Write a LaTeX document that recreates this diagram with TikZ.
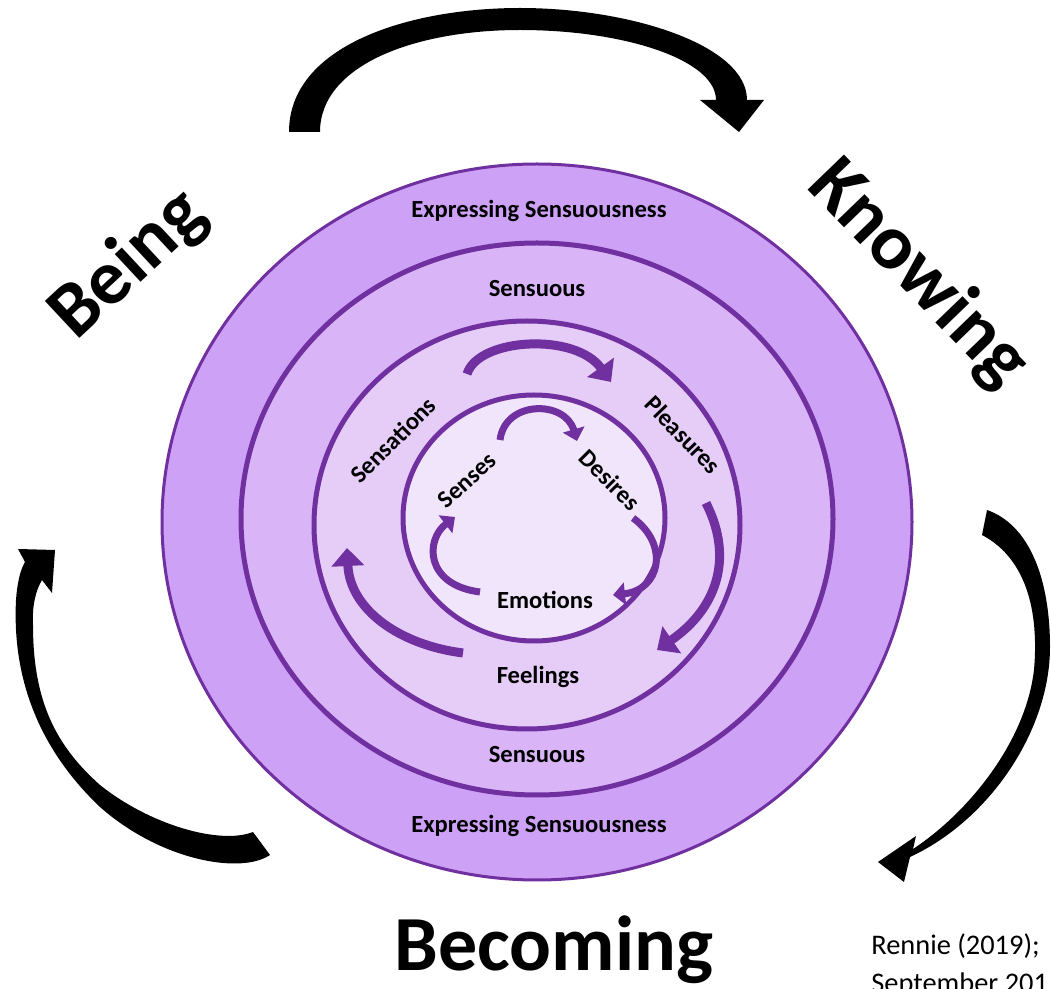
\documentclass[tikz,border=0pt]{standalone}
\usepackage{fontspec}
\setmainfont{Carlito}
\usetikzlibrary{arrows.meta}

\definecolor{ringone}{RGB}{205,161,246}
\definecolor{ringtwo}{RGB}{217,181,248}
\definecolor{ringthree}{RGB}{229,205,248}
\definecolor{ringfour}{RGB}{240,229,250}
\definecolor{plum}{RGB}{112,48,160}

\tikzset{
  ringlabel/.style={inner sep=0pt, font=\bfseries\fontsize{12.3}{14}\selectfont},
  biglabel/.style={inner sep=0pt, font=\bfseries\fontsize{39}{46}\selectfont},
  citelabel/.style={inner sep=0pt, font=\fontsize{14.2}{17}\selectfont},
  ringarrow/.style={draw=plum, line width=4.5pt, -{Triangle[width=16pt,length=9pt]}},
  innerarrow/.style={draw=plum, line width=3.5pt, -{Triangle[width=11pt,length=6pt]}}
}

\begin{document}
\begin{tikzpicture}[x=0.5pt,y=-0.5pt]
  \useasboundingbox (0,0) rectangle (1051,989);
  \clip (0,0) rectangle (1051,989);

  % rings, outside in
  \filldraw [fill=ringone, draw=plum, line width=1.5pt] (537,522) ellipse [x radius=375, y radius=358];
  \filldraw [fill=ringtwo, draw=plum, line width=2.5pt] (537,519) ellipse [x radius=296, y radius=276];
  \filldraw [fill=ringthree, draw=plum, line width=2.5pt] (527,525) ellipse [x radius=213, y radius=204];
  \filldraw [fill=ringfour, draw=plum, line width=2.5pt] (534,518) ellipse [x radius=131, y radius=123];

  % black arrows round the rings
  \fill (289,132) .. controls (289,45) and (410,8) .. (520,8)
    .. controls (630,8) and (747,45) .. (747,100) -- (764,100) -- (739,132) -- (700,100) -- (716,100)
    .. controls (716,60) and (625,30) .. (520,30) .. controls (415,30) and (320,65) .. (320,132) -- cycle;
  \fill (987,510) .. controls (1030,525) and (1050,580) .. (1050,647)
    .. controls (1050,730) and (990,820) .. (910,857) -- (904,882) -- (878,862) -- (916,836) -- (913,849)
    .. controls (965,815) and (1025,745) .. (1034,670) .. controls (1040,600) and (1020,555) .. (982,535) -- cycle;
  \fill (270,855) .. controls (240,875) and (160,860) .. (100,807)
    .. controls (40,750) and (12,680) .. (16,600) .. controls (17,585) and (20,570) .. (25,562)
    -- (18,549) -- (55,550) -- (52,593) -- (42,580)
    .. controls (36,590) and (32,605) .. (33,625) .. controls (33,700) and (55,745) .. (100,785)
    .. controls (150,825) and (220,845) .. (253,832) -- cycle;

  % purple arrows
  \draw [ringarrow] (467,374) .. controls (478,338) and (575,332) .. (611,382);
  \draw [ringarrow] (706,503) .. controls (735,560) and (715,610) .. (657,650);
  \draw [ringarrow] (463,653) .. controls (400,645) and (350,610) .. (347,548);
  \draw [innerarrow] (500,440) .. controls (505,400) and (565,400) .. (577,441);
  \draw [innerarrow] (633,518) .. controls (670,545) and (660,590) .. (613,595);
  \draw [innerarrow] (480,592) .. controls (425,585) and (425,540) .. (455,517);

  % ring texts
  \node [ringlabel] (exptop) at (539,211) {Expressing Sensuousness};
  \node [ringlabel] (senstop) at (537,289) {Sensuous};
  \node [ringlabel] (sensbot) at (537,755) {Sensuous};
  \node [ringlabel] (expbot) at (539,826) {Expressing Sensuousness};
  \node [ringlabel] (feelings) at (538,677) {Feelings};
  \node [ringlabel] (emotions) at (545,600) {Emotions};
  \node [ringlabel, rotate=45] (sensations) at (393,440) {Sensations};
  \node [ringlabel, rotate=-46] (pleasures) at (683,435) {Pleasures};
  \node [ringlabel, rotate=42] (senses) at (467,480) {Senses};
  \node [ringlabel, rotate=-45] (desires) at (610,480) {Desires};

  % outer words
  \node [biglabel, rotate=43] (being) at (129,265) {Being};
  \node [biglabel, rotate=-46] (knowing) at (918,274) {Knowing};
  \node [biglabel, anchor=base] (becoming) at (554,971) {Becoming};
  \node [citelabel, anchor=base west] (cite) at (871,955) {Rennie (2019);};
  \node [citelabel, anchor=base west] (citemore) at (871,993) {September 201};
\end{tikzpicture}
\end{document}
